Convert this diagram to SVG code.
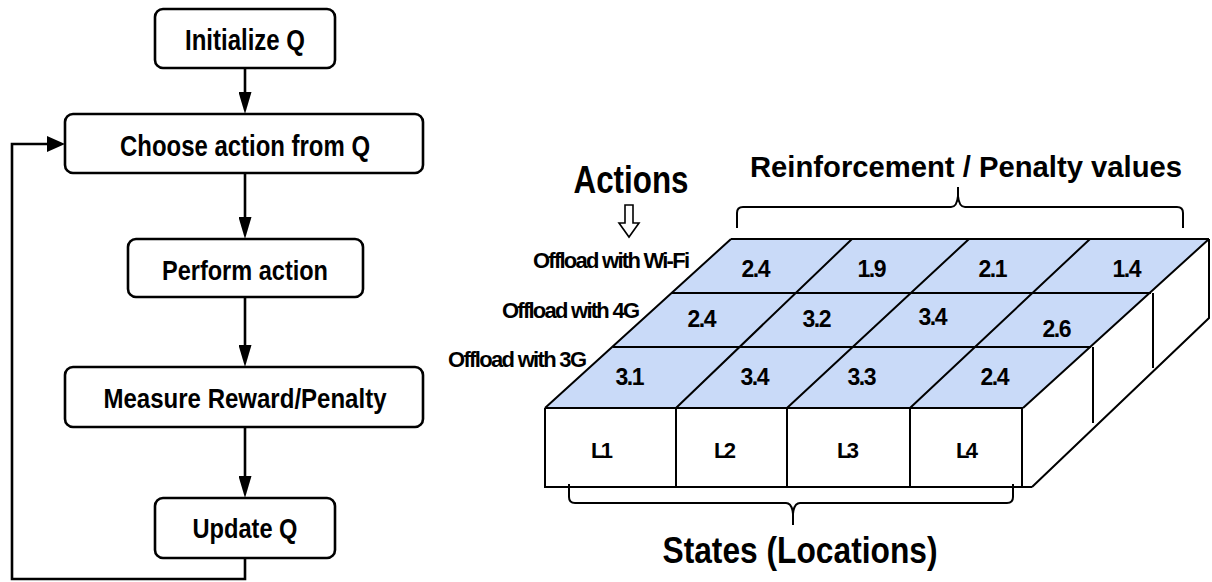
<svg xmlns="http://www.w3.org/2000/svg" width="1212" height="582" viewBox="0 0 1212 582">
<style>
.t{font-family:"Liberation Sans Narrow","Liberation Sans",Arial,sans-serif;font-weight:bold;fill:#000}
.box{fill:#fff;stroke:#000;stroke-width:2.6}
.con{fill:none;stroke:#000;stroke-width:2.6}
.g{fill:none;stroke:#000;stroke-width:2}
.brace{fill:none;stroke:#000;stroke-width:2}
</style>
<defs>
<marker id="av" markerUnits="userSpaceOnUse" markerWidth="22" markerHeight="13" refX="0" refY="6.5" orient="auto" viewBox="0 0 22 13"><path d="M0,0 L22,6.5 L0,13 z" fill="#000"/></marker>
<marker id="ah" markerUnits="userSpaceOnUse" markerWidth="18" markerHeight="16" refX="0" refY="8" orient="auto" viewBox="0 0 18 16"><path d="M0,0 L18,8 L0,16 z" fill="#000"/></marker>
</defs>
<rect width="1212" height="582" fill="#fff"/>

<g id="connectors">
<line class="con" x1="245" y1="68" x2="245" y2="92" marker-end="url(#av)"/>
<line class="con" x1="245" y1="173" x2="245" y2="217" marker-end="url(#av)"/>
<line class="con" x1="245" y1="297" x2="245" y2="345" marker-end="url(#av)"/>
<line class="con" x1="245" y1="427" x2="245" y2="476" marker-end="url(#av)"/>
<path class="con" d="M245,558 V579 H12 V144 H47" marker-end="url(#ah)"/>
</g>

<g id="init"><rect class="box" x="155" y="9" width="180" height="59" rx="8"/><text class="t" x="245" y="50" font-size="29" text-anchor="middle" textLength="120" lengthAdjust="spacingAndGlyphs">Initialize Q</text></g>
<g id="choose"><rect class="box" x="65" y="114" width="358" height="59" rx="8"/><text class="t" x="245" y="156" font-size="29" text-anchor="middle" textLength="250" lengthAdjust="spacingAndGlyphs">Choose action from Q</text></g>
<g id="perform"><rect class="box" x="128" y="239" width="235" height="58" rx="8"/><text class="t" x="245" y="280" font-size="28" text-anchor="middle" textLength="166" lengthAdjust="spacingAndGlyphs">Perform action</text></g>
<g id="measure"><rect class="box" x="65" y="367" width="358" height="60" rx="8"/><text class="t" x="245" y="408" font-size="28" text-anchor="middle" textLength="283" lengthAdjust="spacingAndGlyphs">Measure Reward/Penalty</text></g>
<g id="update"><rect class="box" x="155" y="498" width="180" height="60" rx="8"/><text class="t" x="245" y="538" font-size="28" text-anchor="middle" textLength="105" lengthAdjust="spacingAndGlyphs">Update Q</text></g>

<g id="qtable">
<polygon points="731,239 1209,239 1023,408 545,408" fill="#c9daf8" stroke="none"/>
<polygon points="1023,408 1209,239 1209,318 1032,487 1023,487" fill="#fff" stroke="none"/>
<rect x="545" y="408" width="477" height="79" fill="#fff" stroke="none"/>
<path class="g" d="M731,239 H1209 M672,293 H1151 M613,347 H1091 M545,408 H1023 M731,239 L545,408 M852,239 L676,408 M969,239 L787,408 M1090,239 L910,408 M1209,239 L1023,408"/>
<path class="g" d="M545,408 V487 H1032 M676,408 V487 M787,408 V487 M910,408 V487 M1022,408 V487 M1032,487 L1209,318 V239 M1093,347 V423 M1153,293 V368"/>
<g class="t" font-size="23" text-anchor="middle" lengthAdjust="spacingAndGlyphs">
<text x="756" y="277" textLength="29">2.4</text>
<text x="872" y="277" textLength="29">1.9</text>
<text x="993" y="277" textLength="29">2.1</text>
<text x="1127" y="277" textLength="29">1.4</text>
<text x="702" y="327" textLength="29">2.4</text>
<text x="817" y="327" textLength="29">3.2</text>
<text x="933" y="325" textLength="29">3.4</text>
<text x="1057" y="337" textLength="29">2.6</text>
<text x="630" y="385" textLength="29">3.1</text>
<text x="755" y="385" textLength="29">3.4</text>
<text x="862" y="385" textLength="29">3.3</text>
<text x="995" y="385" textLength="29">2.4</text>
</g>
<g class="t" font-size="22" text-anchor="middle" lengthAdjust="spacingAndGlyphs">
<text x="602" y="458" textLength="22">L1</text>
<text x="725" y="458" textLength="22">L2</text>
<text x="848" y="458" textLength="22">L3</text>
<text x="967" y="458" textLength="22">L4</text>
</g>
</g>

<g id="actions">
<text class="t" x="631" y="193" font-size="38" text-anchor="middle" textLength="115" lengthAdjust="spacingAndGlyphs">Actions</text>
<polygon points="625,205 633,205 633,223 639,223 629,237 619,223 625,223" fill="#fff" stroke="#000" stroke-width="1.6" stroke-linejoin="miter"/>
<g class="t" font-size="22" text-anchor="end" lengthAdjust="spacingAndGlyphs">
<text x="690" y="268" textLength="157">Offload with Wi-Fi</text>
<text x="640" y="318" textLength="138">Offload with 4G</text>
<text x="587" y="367" textLength="139">Offload with 3G</text>
</g>
</g>

<g id="rewards">
<text class="t" x="966" y="177" font-size="29" text-anchor="middle" textLength="432" lengthAdjust="spacingAndGlyphs">Reinforcement / Penalty values</text>
<path class="brace" d="M737,228 V213 Q737,207 743,207 H951 Q957,207 958,196 V187 M958,196 Q959,207 965,207 H1177 Q1183,207 1183,213 V228"/>
</g>

<g id="states">
<path class="brace" d="M569,484 V497 Q569,503 575,503 H786 Q792,503 793,514 V525 M793,514 Q794,503 800,503 H1007 Q1013,503 1013,497 V484"/>
<text class="t" x="800" y="563" font-size="37" text-anchor="middle" textLength="275" lengthAdjust="spacingAndGlyphs">States (Locations)</text>
</g>
</svg>
